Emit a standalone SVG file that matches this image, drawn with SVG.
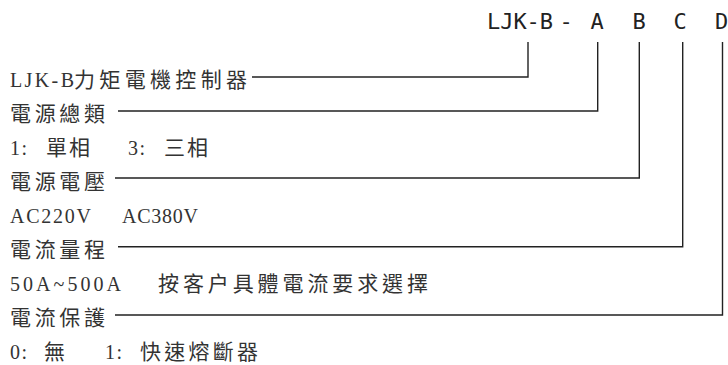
<svg xmlns="http://www.w3.org/2000/svg" width="728" height="365" viewBox="0 0 728 365">
<style>
.hd{font-family:"DejaVu Sans Mono",monospace;font-size:22px;fill:#222}
.cj{font-family:"Noto Sans CJK TC","Noto Sans CJK SC",sans-serif;font-size:21px;fill:#333}
.lt{font-family:"Liberation Serif",serif;font-size:20px;fill:#333}
.ln{fill:none;stroke:#222;stroke-width:1.4}
</style>
<rect width="728" height="365" fill="#fff"/>
<g id="header">
<text class="hd" x="487" y="29" textLength="66" lengthAdjust="spacing">LJK-B</text>
<text class="hd" x="566" y="29" text-anchor="middle">-</text>
<text class="hd" x="597" y="29" text-anchor="middle">A</text>
<text class="hd" x="639" y="29" text-anchor="middle">B</text>
<text class="hd" x="680" y="29" text-anchor="middle">C</text>
<text class="hd" x="721.5" y="29" text-anchor="middle">D</text>
</g>
<g id="row-model">
<text class="lt" x="10" y="87" textLength="64" lengthAdjust="spacing">LJK-B</text>
<text class="cj" x="74" y="87" textLength="173" lengthAdjust="spacing">力矩電機控制器</text>
</g>
<g id="row-type">
<text class="cj" x="10" y="121" textLength="95" lengthAdjust="spacing">電源總類</text>
</g>
<g id="row-type-values">
<text class="lt" x="10" y="155" textLength="17" lengthAdjust="spacing">1:</text>
<text class="cj" x="46" y="155" textLength="44" lengthAdjust="spacing">單相</text>
<text class="lt" x="128" y="155" textLength="17" lengthAdjust="spacing">3:</text>
<text class="cj" x="164" y="155" textLength="44" lengthAdjust="spacing">三相</text>
</g>
<g id="row-voltage">
<text class="cj" x="10" y="188.5" textLength="95" lengthAdjust="spacing">電源電壓</text>
</g>
<g id="row-voltage-values">
<text class="lt" x="10" y="222.5" textLength="81" lengthAdjust="spacing">AC220V</text>
<text class="lt" x="122" y="222.5" textLength="76" lengthAdjust="spacing">AC380V</text>
</g>
<g id="row-current">
<text class="cj" x="10" y="256.7" textLength="95" lengthAdjust="spacing">電流量程</text>
</g>
<g id="row-current-values">
<text class="lt" x="10" y="290.8" textLength="111" lengthAdjust="spacing">50A~500A</text>
<text class="cj" x="158" y="290.8" textLength="270" lengthAdjust="spacing">按客户具體電流要求選擇</text>
</g>
<g id="row-protect">
<text class="cj" x="10" y="325" textLength="95" lengthAdjust="spacing">電流保護</text>
</g>
<g id="row-protect-values">
<text class="lt" x="10" y="359" textLength="17" lengthAdjust="spacing">0:</text>
<text class="cj" x="44" y="359">無</text>
<text class="lt" x="105" y="359" textLength="17" lengthAdjust="spacing">1:</text>
<text class="cj" x="140" y="359" textLength="118" lengthAdjust="spacing">快速熔斷器</text>
</g>
<g id="connectors">
<path class="ln" d="M252 77H528V42"/>
<path class="ln" d="M118 111H597.7V42"/>
<path class="ln" d="M115 178H639.3V42"/>
<path class="ln" d="M118 246.7H682.7V42"/>
<path class="ln" d="M115 315H722.5V42"/>
</g>
</svg>
